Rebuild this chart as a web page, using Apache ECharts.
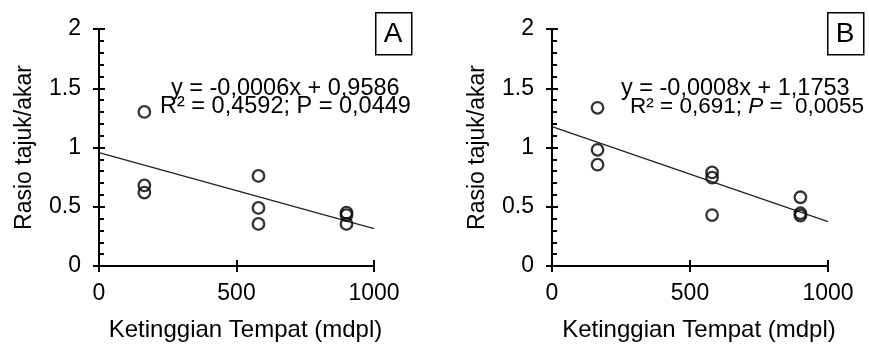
<!DOCTYPE html>
<html><head><meta charset="utf-8">
<script src="https://cdn.jsdelivr.net/npm/echarts@6/dist/echarts.min.js"></script>
<style>html,body{margin:0;padding:0;background:#fff}#c{width:869px;height:347px}</style>
</head><body><div id="c"></div>
<script>
// ---- data ----
const elevation = [165, 165, 165, 580, 580, 580, 900, 900, 900];
const ratioA = [1.30, 0.68, 0.62, 0.76, 0.49, 0.355, 0.45, 0.43, 0.355];
const ratioB = [1.335, 0.98, 0.855, 0.79, 0.745, 0.43, 0.58, 0.445, 0.425];
const trendX = [0, 1000];
const trendA = [0.957, 0.316];
const trendB = [1.1753, 0.375];
const xLabel = 'Ketinggian Tempat (mdpl)';
const yLabel = 'Rasio tajuk/akar';
const panels = ['A', 'B'];
const eqLine1 = ['y = -0,0006x + 0,9586', 'y = -0,0008x + 1,1753'];
const eqLine2A = 'R² = 0,4592; P = 0,0449';
const eqLine2B = ['R² = 0,691; ', 'P', ' =  0,0055'];

const FONT = '"Liberation Sans", Arial, sans-serif';
const grids = [
  {left: 99, top: 29, width: 275, height: 238},
  {left: 552, top: 29, width: 276, height: 238}
];
const ratios = [ratioA, ratioB];
const trends = [trendA, trendB];

const xAxes = [], yAxes = [], series = [];
grids.forEach((g, i) => {
  xAxes.push({
    gridIndex: i, type: 'value', min: 0, max: 1000, interval: 500,
    axisLine: {show: true, onZero: false, lineStyle: {color: '#000', width: 2}},
    axisTick: {show: true, inside: false, length: 6, lineStyle: {color: '#000', width: 2}},
    axisLabel: {show: true, margin: 16, color: '#000', fontSize: 23, fontFamily: FONT,
      formatter: v => String(v)},
    splitLine: {show: false},
    name: xLabel, nameLocation: 'middle', nameGap: 52,
    nameTextStyle: {color: '#000', fontSize: 24, fontFamily: FONT, padding: [0, 0, 0, 18]}
  });
  xAxes.push({
    gridIndex: i, type: 'value', min: 0, max: 1000, interval: 500, position: 'bottom',
    axisLine: {show: false, onZero: false},
    axisTick: {show: true, inside: true, length: 6, lineStyle: {color: '#000', width: 2}},
    axisLabel: {show: false}, splitLine: {show: false}
  });
  yAxes.push({
    gridIndex: i, type: 'value', min: 0, max: 2, interval: 0.5, position: 'left',
    axisLine: {show: true, onZero: false, lineStyle: {color: '#000', width: 2}},
    axisTick: {show: true, inside: false, length: 6, lineStyle: {color: '#000', width: 2}},
    axisLabel: {show: true, margin: 18, color: '#000', fontSize: 23, fontFamily: FONT},
    splitLine: {show: false},
    name: yLabel, nameLocation: 'middle', nameGap: 63,
    nameTextStyle: {color: '#000', fontSize: 23, fontFamily: FONT}
  });
  yAxes.push({
    gridIndex: i, type: 'value', min: 0, max: 2, interval: 0.5, position: 'left',
    axisLine: {show: false, onZero: false},
    axisTick: {show: true, inside: true, length: 6, lineStyle: {color: '#000', width: 2}},
    minorTick: {show: true, splitNumber: 5, length: 5, lineStyle: {color: '#000', width: 2}},
    axisLabel: {show: false}, splitLine: {show: false}
  });
  series.push({
    type: 'line', xAxisIndex: i * 2, yAxisIndex: i * 2, symbol: 'none', silent: true,
    data: trendX.map((x, k) => [x, trends[i][k]]),
    lineStyle: {color: '#222', width: 1.3}, z: 1
  });
  series.push({
    type: 'scatter', xAxisIndex: i * 2, yAxisIndex: i * 2,
    data: elevation.map((x, k) => [x, ratios[i][k]]),
    symbol: 'circle', symbolSize: 11.5,
    itemStyle: {color: 'rgba(0,0,0,0)', borderColor: '#000', borderWidth: 2.3}, z: 3
  });
});

const graphic = [];
const boxX = [375, 827];
panels.forEach((p, i) => {
  graphic.push({type: 'rect', left: boxX[i], top: 12,
    shape: {width: 36, height: 42}, style: {fill: '#fff', stroke: '#000', lineWidth: 1.5}});
  graphic.push({type: 'text', x: boxX[i] + 18, y: 34,
    style: {text: p, fill: '#000', font: '28px ' + FONT, textAlign: 'center', textVerticalAlign: 'middle'}});
});
const EQF = '23.5px ' + FONT;
graphic.push({type: 'text', x: 171, y: 89,
  style: {text: eqLine1[0], fill: '#000', font: EQF, textAlign: 'left', textVerticalAlign: 'middle'}});
graphic.push({type: 'text', x: 160, y: 107,
  style: {text: eqLine2A, fill: '#000', font: EQF, textAlign: 'left', textVerticalAlign: 'middle'}});
graphic.push({type: 'text', x: 621, y: 89,
  style: {text: eqLine1[1], fill: '#000', font: EQF, textAlign: 'left', textVerticalAlign: 'middle'}});
graphic.push({type: 'text', x: 630, y: 107,
  style: {text: '{n|' + eqLine2B[0] + '}{i|' + eqLine2B[1] + '}{n|' + eqLine2B[2] + '}', fill: '#000', font: '22.5px ' + FONT,
    textAlign: 'left', textVerticalAlign: 'middle',
    rich: {n: {fontSize: 22.5, fontFamily: FONT, fill: '#000'}, i: {fontSize: 22.5, fontFamily: FONT, fontStyle: 'italic', fill: '#000'}}}});

const chart = echarts.init(document.getElementById('c'), null, {renderer: 'canvas'});
chart.setOption({
  animation: false,
  backgroundColor: '#fff',
  grid: grids,
  xAxis: xAxes,
  yAxis: yAxes,
  series: series,
  graphic: graphic
});
</script>
</body></html>
